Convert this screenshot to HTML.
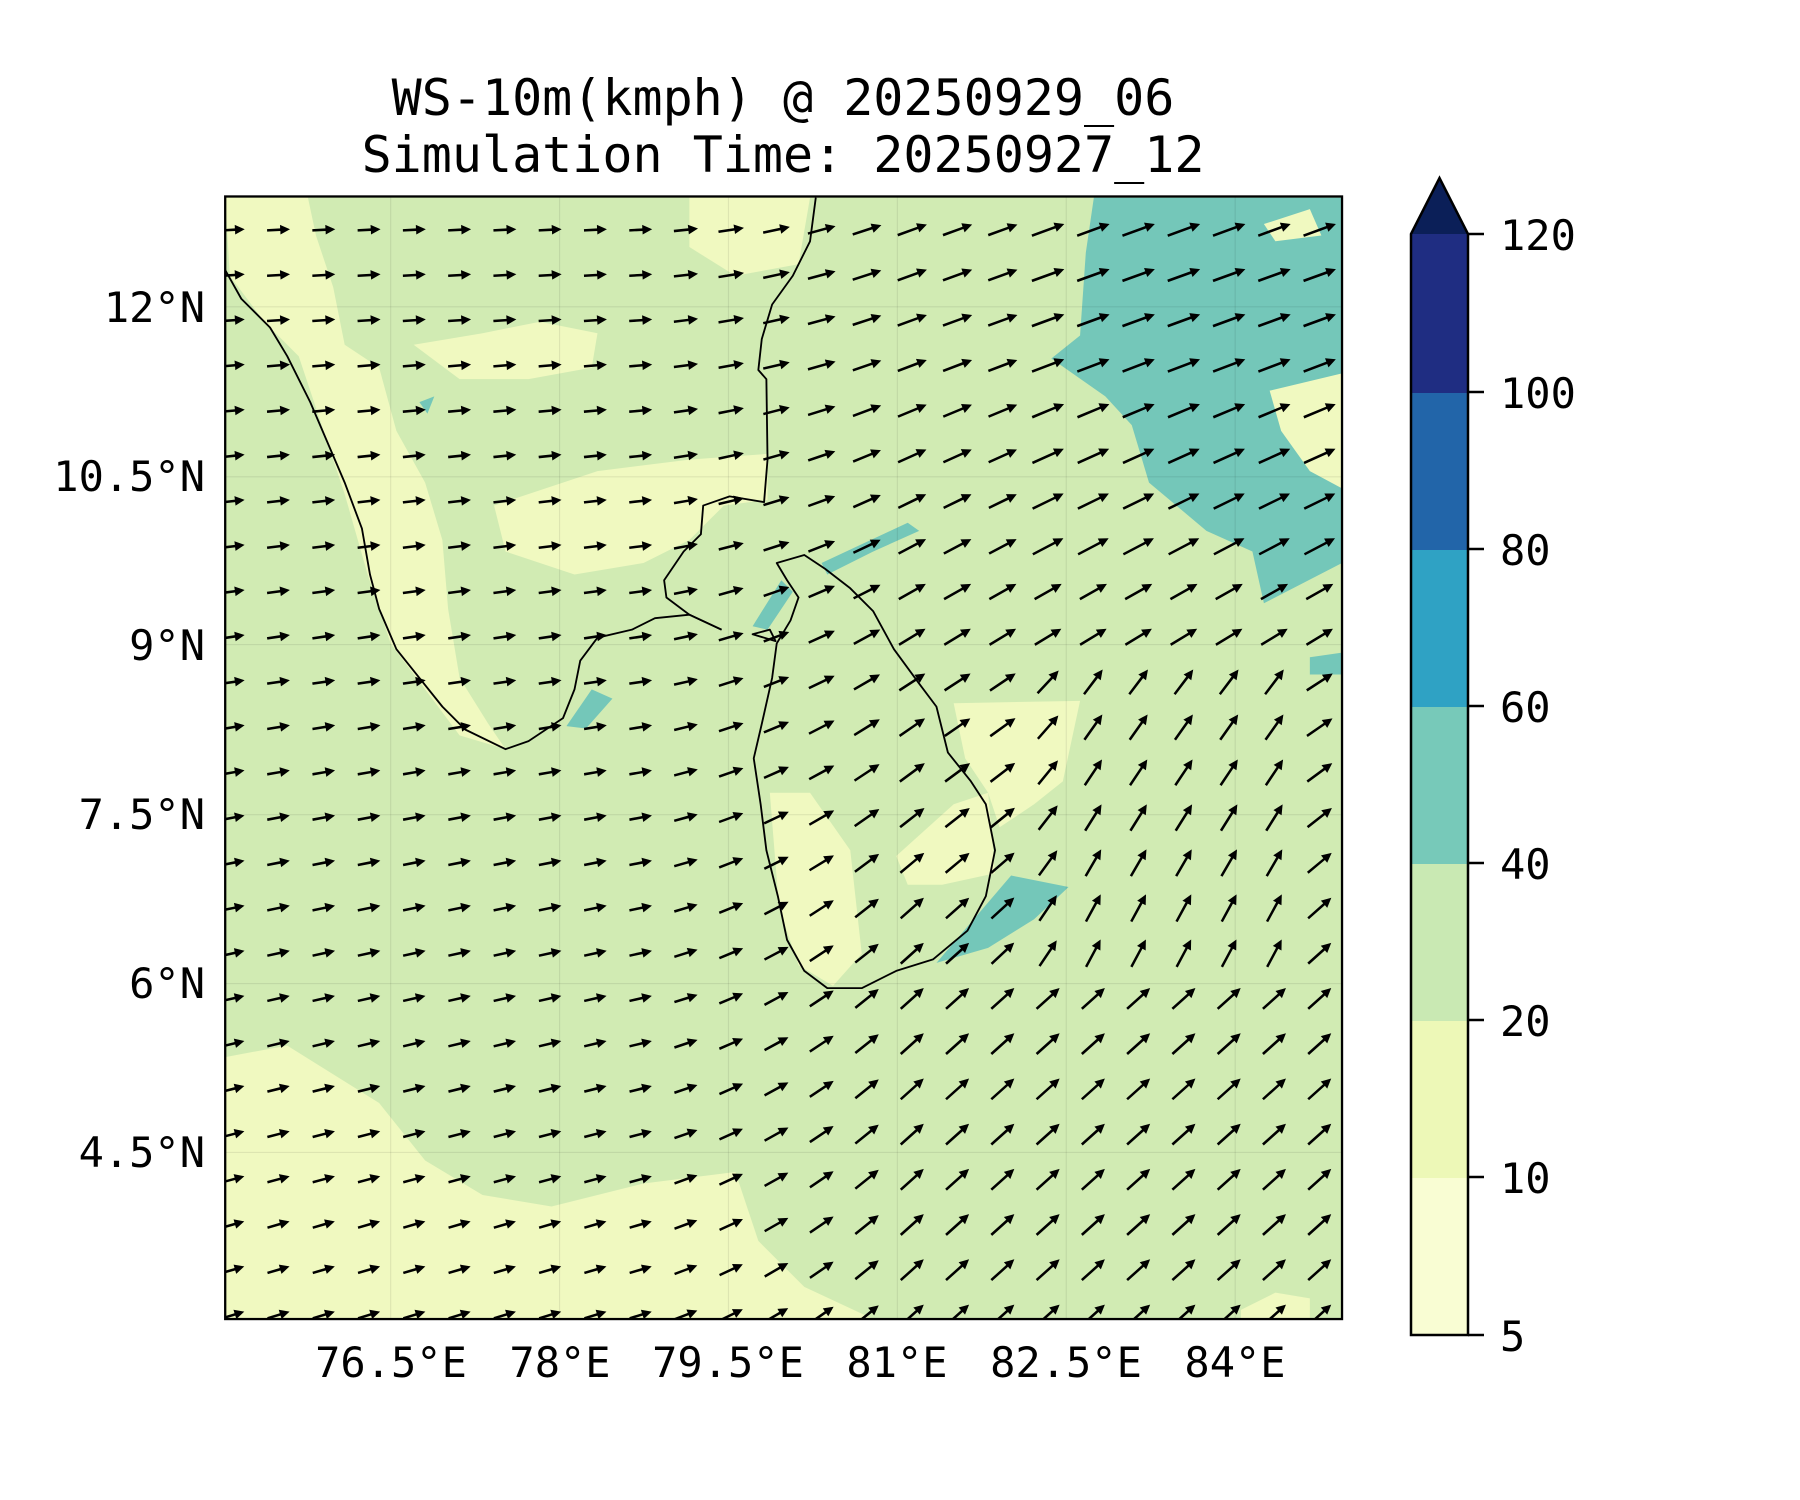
<!DOCTYPE html>
<html><head><meta charset="utf-8"><style>
html,body{margin:0;padding:0;background:#fff}
svg{display:block}
text{font-family:"DejaVu Sans Mono","Liberation Mono",monospace;fill:#000}
</style></head><body>
<svg id="s" width="1800" height="1500" viewBox="0 0 1800 1500" xmlns="http://www.w3.org/2000/svg">
<defs><clipPath id="cp"><rect x="196" y="171" width="972" height="977"/></clipPath></defs>
<text x="783" y="115" font-size="50" text-anchor="middle">WS-10m(kmph) @ 20250929_06</text>
<text x="783" y="172" font-size="50" text-anchor="middle">Simulation Time: 20250927_12</text>
<g transform="scale(1.149)">
<g clip-path="url(#cp)">
<rect x="196" y="171" width="972" height="977" fill="#d1ebb3"/>
<g fill="#f0f9c0">
<path d="M196,172 L268,172 L275,205 L290,250 L300,300 L330,320 L345,375 L370,420 L385,470 L390,530 L400,590 L425,630 L440,652 L400,640 L370,600 L340,560 L320,500 L300,430 L280,370 L260,310 L230,280 L200,240 Z"/>
<path d="M600,172 L705,172 L695,230 L640,240 L600,215 Z"/>
<path d="M430,440 L520,410 L600,400 L668,395 L668,435 L630,440 L600,470 L560,490 L500,500 L440,480 Z"/>
<path d="M360,300 L420,290 L470,280 L520,290 L515,320 L460,330 L400,330 Z"/>
<path d="M670,690 L705,690 L740,740 L750,830 L725,858 L695,840 L678,790 Z"/>
<path d="M780,745 L830,700 L860,690 L866,760 L820,770 L790,770 Z"/>
<path d="M830,612 L940,610 L925,680 L900,700 L870,720 L860,690 L840,660 Z"/>
<path d="M196,920 L250,910 L330,960 L370,1010 L420,1040 L480,1050 L560,1030 L640,1020 L660,1080 L700,1120 L760,1148 L196,1148 Z"/>
<path d="M1080,190 L1140,178 L1150,200 L1100,205 Z"/>
<path d="M1080,1140 L1110,1125 L1140,1130 L1140,1148 L1080,1148 Z"/>
</g>
<g fill="#74c7b9">
<path d="M952,172 L1168,172 L1168,490 L1100,525 L1090,480 L1050,462 L1000,420 L985,370 L962,345 L915,312 L940,292 L945,220 Z"/>
<path d="M715,490 L790,455 L800,462 L760,480 L720,500 Z"/>
<path d="M815,838 L880,762 L930,772 L900,800 L860,825 Z"/>
<path d="M493,632 L515,600 L533,608 L510,634 Z"/>
<path d="M655,545 L680,505 L690,515 L668,548 Z"/>
<path d="M1140,572 L1168,568 L1168,587 L1140,587 Z"/>
<path d="M365,350 L378,345 L372,360 Z"/>
</g>
<path fill="#f0f9c0" d="M1105,340 L1168,325 L1168,425 L1140,410 L1115,375 Z"/>
<path fill="#f0f9c0" d="M1100,195 L1140,182 L1150,205 L1110,210 Z"/>
<g stroke="#000" stroke-opacity="0.08" stroke-width="1">
<line x1="340" y1="171" x2="340" y2="1148"/><line x1="487" y1="171" x2="487" y2="1148"/><line x1="634" y1="171" x2="634" y2="1148"/><line x1="781" y1="171" x2="781" y2="1148"/><line x1="928" y1="171" x2="928" y2="1148"/><line x1="1075" y1="171" x2="1075" y2="1148"/>
<line x1="196" y1="267" x2="1168" y2="267"/><line x1="196" y1="415" x2="1168" y2="415"/><line x1="196" y1="561" x2="1168" y2="561"/><line x1="196" y1="709" x2="1168" y2="709"/><line x1="196" y1="856" x2="1168" y2="856"/><line x1="196" y1="1003" x2="1168" y2="1003"/>
</g>
<g fill="none" stroke="#000" stroke-width="1.6" stroke-linejoin="round">
<path d="M196,235 L210,260 L235,285 L250,310 L270,350 L285,385 L300,420 L315,460 L322,500 L330,530 L345,565 L365,590 L385,615 L405,635 L440,652 L460,645 L490,625 L500,600 L505,575 L520,555 L550,548 L570,538 L600,535 L628,548"/>
<path d="M628,548 L600,535 L580,520 L578,505 L595,480 L610,465 L612,440 L635,432 L665,437 L668,400 L667,330 L660,322 L663,295 L672,265 L690,240 L705,210 L710,172"/>
<path d="M676,490 L700,483 L718,495 L740,512 L760,532 L778,565 L800,595 L815,615 L825,655 L845,680 L858,700 L866,740 L858,780 L842,810 L812,835 L780,845 L750,860 L720,860 L700,845 L685,818 L677,780 L667,740 L662,700 L656,660 L663,630 L672,590 L676,560 L688,540 L695,520 L685,505 Z"/>
<path d="M655,552 L675,558 L670,548 Z"/>
</g>
<g id="arrows" fill="#000"></g>
</g>
<rect x="196" y="171" width="972" height="977" fill="none" stroke="#000" stroke-width="2"/>
</g>
<g font-size="42">
<text x="391" y="1377" text-anchor="middle">76.5°E</text>
<text x="560" y="1377" text-anchor="middle">78°E</text>
<text x="728" y="1377" text-anchor="middle">79.5°E</text>
<text x="897" y="1377" text-anchor="middle">81°E</text>
<text x="1066" y="1377" text-anchor="middle">82.5°E</text>
<text x="1235" y="1377" text-anchor="middle">84°E</text>
<text x="205" y="322" text-anchor="end">12°N</text>
<text x="205" y="491" text-anchor="end">10.5°N</text>
<text x="205" y="660" text-anchor="end">9°N</text>
<text x="205" y="829" text-anchor="end">7.5°N</text>
<text x="205" y="998" text-anchor="end">6°N</text>
<text x="205" y="1167" text-anchor="end">4.5°N</text>
</g>
<g>
<rect x="1411" y="1177" width="57" height="158" fill="#f9fdd3"/>
<rect x="1411" y="1020" width="57" height="158" fill="#edf8b7"/>
<rect x="1411" y="863" width="57" height="158" fill="#c9e9b3"/>
<rect x="1411" y="706" width="57" height="158" fill="#77c9b9"/>
<rect x="1411" y="549" width="57" height="158" fill="#2fa2c4"/>
<rect x="1411" y="392" width="57" height="158" fill="#2265a9"/>
<rect x="1411" y="234" width="57" height="159" fill="#1f2d82"/>
<path d="M1411,234 L1439.5,178 L1468,234 Z" fill="#0b1f58"/>
<path d="M1411,234 L1439.5,178 L1468,234 L1468,1335 L1411,1335 Z" fill="none" stroke="#000" stroke-width="2.5"/>
<g stroke="#000" stroke-width="2.5">
<line x1="1468" y1="234" x2="1484" y2="234"/><line x1="1468" y1="392" x2="1484" y2="392"/><line x1="1468" y1="549" x2="1484" y2="549"/><line x1="1468" y1="706" x2="1484" y2="706"/><line x1="1468" y1="863" x2="1484" y2="863"/><line x1="1468" y1="1020" x2="1484" y2="1020"/><line x1="1468" y1="1177" x2="1484" y2="1177"/><line x1="1468" y1="1335" x2="1484" y2="1335"/>
</g>
<g font-size="42">
<text x="1500" y="250">120</text><text x="1500" y="408">100</text><text x="1500" y="565">80</text><text x="1500" y="722">60</text><text x="1500" y="879">40</text><text x="1500" y="1036">20</text><text x="1500" y="1193">10</text><text x="1500" y="1351">5</text>
</g>
</g>
</svg>
<script>
(function(){
var g=document.getElementById('arrows'),h='';
function cl(v){return v<0?0:v>1?1:v;}
for(var r=0;r<25;r++){for(var c=0;c<25;c++){
var x=203+c*39.4,y=200+r*39.35;
var t=cl((x-560)/220);
var aw=3+(y-200)/950*14;
var ae=20+cl((y-300)/500)*22;
if(x>870&&x<1140&&y>580&&y<830)ae+=20*cl((x-870)/60);
var a=(aw*(1-t)+ae*t)*Math.PI/180;
var L=20+t*7+(x>900&&y<500?3:0);
var dx=Math.cos(a),dy=-Math.sin(a);
var x0=x-dx*L/2,y0=y-dy*L/2,x1=x+dx*L/2,y1=y+dy*L/2;
var px=-dy,py=dx,hl=8.5,hw=4.2,sw=1.1;
var bx=x1-dx*hl,by=y1-dy*hl;
var p=[[x0+px*sw,y0+py*sw],[bx+px*sw,by+py*sw],[bx+px*hw,by+py*hw],[x1,y1],[bx-px*hw,by-py*hw],[bx-px*sw,by-py*sw],[x0-px*sw,y0-py*sw]];
h+='<polygon points="'+p.map(function(q){return q[0].toFixed(1)+','+q[1].toFixed(1);}).join(' ')+'"/>';
}}
g.innerHTML=h;
})();
</script>
</body></html>
